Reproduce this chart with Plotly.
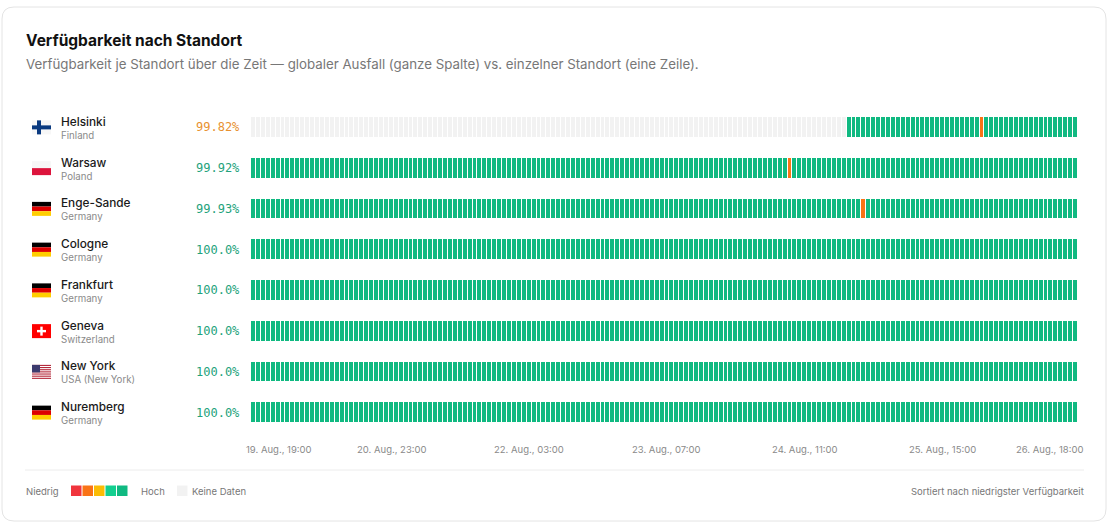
import pandas as pd
import plotly.graph_objects as go

# --- data ------------------------------------------------------------------
cities = ["Helsinki", "Warsaw", "Enge-Sande", "Cologne", "Frankfurt", "Geneva", "New York", "Nuremberg"]
countries = ["Finland", "Poland", "Germany", "Germany", "Germany", "Switzerland", "USA (New York)", "Germany"]
flags = ["FI", "PL", "DE", "DE", "DE", "CH", "US", "DE"]
availability = [99.82, 99.92, 99.93, 100.0, 100.0, 100.0, 100.0, 100.0]

# hourly status per location as (level, number of hours); 0 = keine Daten, 1 = niedrig ... 5 = hoch
helsinki_runs = [(0, 121), (5, 27), (2, 1), (5, 19)]
warsaw_runs = [(5, 109), (2, 1), (5, 58)]
enge_sande_runs = [(5, 124), (2, 1), (5, 43)]
cologne_runs = [(5, 168)]
frankfurt_runs = [(5, 168)]
geneva_runs = [(5, 168)]
new_york_runs = [(5, 168)]
nuremberg_runs = [(5, 168)]

start_time = "2025-08-19 19:00"
n_hours = 168

tick_times = ["2025-08-19 19:00", "2025-08-20 23:00", "2025-08-22 03:00", "2025-08-23 07:00",
              "2025-08-24 11:00", "2025-08-25 15:00", "2025-08-26 18:00"]
tick_labels = ["19. Aug., 19:00", "20. Aug., 23:00", "22. Aug., 03:00", "23. Aug., 07:00",
               "24. Aug., 11:00", "25. Aug., 15:00", "26. Aug., 18:00"]

# --- styles -----------------------------------------------------------------
level_colors = ["#f2f2f2", "#f0353d", "#f97316", "#fbbc05", "#12cf8f", "#10b981"]
W, H = 1110, 525
L, R, T, B = 251, 32, 107, 92
PW, PH = W - L - R, H - T - B
FONT = "Inter, Roboto, sans-serif"


def px(x):
    return (x - L) / PW


def py(y):
    return (H - B - y) / PH


def expand(runs):
    row = []
    for level, count in runs:
        row += [level] * count
    return row


all_runs = [helsinki_runs, warsaw_runs, enge_sande_runs, cologne_runs,
            frankfurt_runs, geneva_runs, new_york_runs, nuremberg_runs]
z = [expand(r) for r in all_runs]
hours = pd.date_range(start_time, periods=n_hours, freq="h")
half = pd.Timedelta(minutes=30)

n = len(level_colors)
colorscale = []
for i, c in enumerate(level_colors):
    colorscale += [[i / n, c], [(i + 1) / n, c]]

fig = go.Figure(go.Heatmap(
    x=hours, y=cities, z=z,
    zmin=-0.5, zmax=n - 0.5,
    colorscale=colorscale, showscale=False,
    xgap=1, ygap=21,
    hovertemplate="%{y}<br>%{x}<extra></extra>",
))

shapes = []
annotations = []

# card
x0, x1, y0, y1, rr = 2, 1106, 7, 521, 12
card = (f"M {px(x0 + rr)} {py(y0)} L {px(x1 - rr)} {py(y0)} Q {px(x1)} {py(y0)} {px(x1)} {py(y0 + rr)} "
        f"L {px(x1)} {py(y1 - rr)} Q {px(x1)} {py(y1)} {px(x1 - rr)} {py(y1)} "
        f"L {px(x0 + rr)} {py(y1)} Q {px(x0)} {py(y1)} {px(x0)} {py(y1 - rr)} "
        f"L {px(x0)} {py(y0 + rr)} Q {px(x0)} {py(y0)} {px(x0 + rr)} {py(y0)} Z")
shapes.append(dict(type="path", xref="paper", yref="paper", path=card,
                   line=dict(color="#e4e4e4", width=1), fillcolor="rgba(0,0,0,0)", layer="below"))


def rect(xa, ya, xb, yb, color):
    shapes.append(dict(type="rect", xref="paper", yref="paper",
                       x0=px(xa), x1=px(xb), y0=py(ya), y1=py(yb),
                       fillcolor=color, line=dict(width=0), layer="above"))


def draw_flag(code, cy):
    fx, fw, fh = 32, 19, 14
    top = cy - fh / 2
    if code == "FI":
        rect(fx, top, fx + fw, top + fh, "#f7f7f7")
        rect(fx + 5, top, fx + 9, top + fh, "#0a3a80")
        rect(fx, cy - 2, fx + fw, cy + 2, "#0a3a80")
    elif code == "PL":
        rect(fx, top, fx + fw, cy, "#f7f7f7")
        rect(fx, cy, fx + fw, top + fh, "#dc143c")
    elif code == "DE":
        rect(fx, top, fx + fw, top + fh / 3, "#000000")
        rect(fx, top + fh / 3, fx + fw, top + 2 * fh / 3, "#dd0000")
        rect(fx, top + 2 * fh / 3, fx + fw, top + fh, "#ffce00")
    elif code == "CH":
        rect(fx, top, fx + fw, top + fh, "#ff0000")
        rect(fx + 8.3, cy - 4.5, fx + 10.7, cy + 4.5, "#ffffff")
        rect(fx + 5, cy - 1.2, fx + 14, cy + 1.2, "#ffffff")
    elif code == "US":
        sh = fh / 13
        rect(fx, top, fx + fw, top + fh, "#ffffff")
        for s in range(0, 13, 2):
            rect(fx, top + s * sh, fx + fw, top + (s + 1) * sh, "#b22234")
        rect(fx, top, fx + 8, top + 7 * sh, "#3c3b6e")


row_pitch = PH / len(cities)
for i, city in enumerate(cities):
    cy = T + row_pitch * (i + 0.5)
    draw_flag(flags[i], cy)
    annotations.append(dict(x=px(58.5), y=py(cy - 5.5), xref="paper", yref="paper", xanchor="left",
                            yanchor="middle", showarrow=False, text=city,
                            font=dict(family=FONT, size=11.8, color="#1a1a1a", weight=500)))
    annotations.append(dict(x=px(58.5), y=py(cy + 8), xref="paper", yref="paper", xanchor="left",
                            yanchor="middle", showarrow=False, text=countries[i],
                            font=dict(family=FONT, size=9.7, color="#8a8a8a")))
    pct_color = "#e8912f" if availability[i] < 99.9 else "#23a27b"
    annotations.append(dict(x=px(241.5), y=py(cy), xref="paper", yref="paper", xanchor="right",
                            yanchor="middle", showarrow=False, text=f"{availability[i]}%",
                            font=dict(family="DejaVu Sans Mono, monospace", size=12, color=pct_color)))

# time labels (first / last pushed to the plot edges like the reference)
for k, (t, lab) in enumerate(zip(tick_times, tick_labels)):
    anchor, shift = "center", 0
    xval = pd.Timestamp(t)
    if k == 0:
        anchor, shift = "left", -7
        xval = xval - half
    elif k == len(tick_times) - 1:
        anchor, shift = "right", 7
        xval = xval + half
    annotations.append(dict(x=xval, y=py(449), xref="x", yref="paper", xanchor=anchor, xshift=shift,
                            yanchor="middle", showarrow=False, text=lab,
                            font=dict(family=FONT, size=9.5, color="#8a8a8a")))

# separator
shapes.append(dict(type="line", xref="paper", yref="paper", x0=px(25), x1=px(1084),
                   y0=py(470), y1=py(470), line=dict(color="#ececec", width=1)))

# legend
annotations.append(dict(x=px(23.5), y=py(491), xref="paper", yref="paper", xanchor="left", yanchor="middle",
                        showarrow=False, text="Niedrig", font=dict(family=FONT, size=9.5, color="#777777")))
for k, c in enumerate(level_colors[1:]):
    lx = 71 + 11.5 * k
    rect(lx, 485.5, lx + 10.5, 496, c)
annotations.append(dict(x=px(139), y=py(491), xref="paper", yref="paper", xanchor="left", yanchor="middle",
                        showarrow=False, text="Hoch", font=dict(family=FONT, size=9.5, color="#777777")))
rect(177, 485.5, 187.5, 496, level_colors[0])
annotations.append(dict(x=px(189.5), y=py(491), xref="paper", yref="paper", xanchor="left", yanchor="middle",
                        showarrow=False, text="Keine Daten", font=dict(family=FONT, size=9.5, color="#777777")))
annotations.append(dict(x=px(1085.5), y=py(491), xref="paper", yref="paper", xanchor="right", yanchor="middle",
                        showarrow=False, text="Sortiert nach niedrigster Verfügbarkeit",
                        font=dict(family=FONT, size=9.5, color="#777777")))

# title + subtitle
annotations.append(dict(x=px(23.5), y=py(40), xref="paper", yref="paper", xanchor="left", yanchor="middle",
                        showarrow=False, text="<b>Verfügbarkeit nach Standort</b>",
                        font=dict(family=FONT, size=15.5, color="#111111")))
annotations.append(dict(x=px(23.5), y=py(64), xref="paper", yref="paper", xanchor="left", yanchor="middle",
                        showarrow=False,
                        text="Verfügbarkeit je Standort über die Zeit — globaler Ausfall (ganze Spalte) vs. einzelner Standort (eine Zeile).",
                        font=dict(family=FONT, size=13.3, color="#777777")))

fig.update_layout(
    width=W, height=H,
    margin=dict(l=L, r=R, t=T, b=B),
    paper_bgcolor="white", plot_bgcolor="white",
    font=dict(family=FONT),
    shapes=shapes, annotations=annotations,
    showlegend=False,
)
fig.update_xaxes(range=[hours[0] - half, hours[-1] + half],
                 showticklabels=False, showgrid=False, zeroline=False, ticks="")
fig.update_yaxes(showticklabels=False, showgrid=False, zeroline=False, ticks="", autorange="reversed")

# page body has a default 8px margin; remove it so the figure sits at the window origin
fig.write_html("out.html", config={"displayModeBar": False},
               post_script="document.body.style.margin='0';document.body.style.overflow='hidden';")
